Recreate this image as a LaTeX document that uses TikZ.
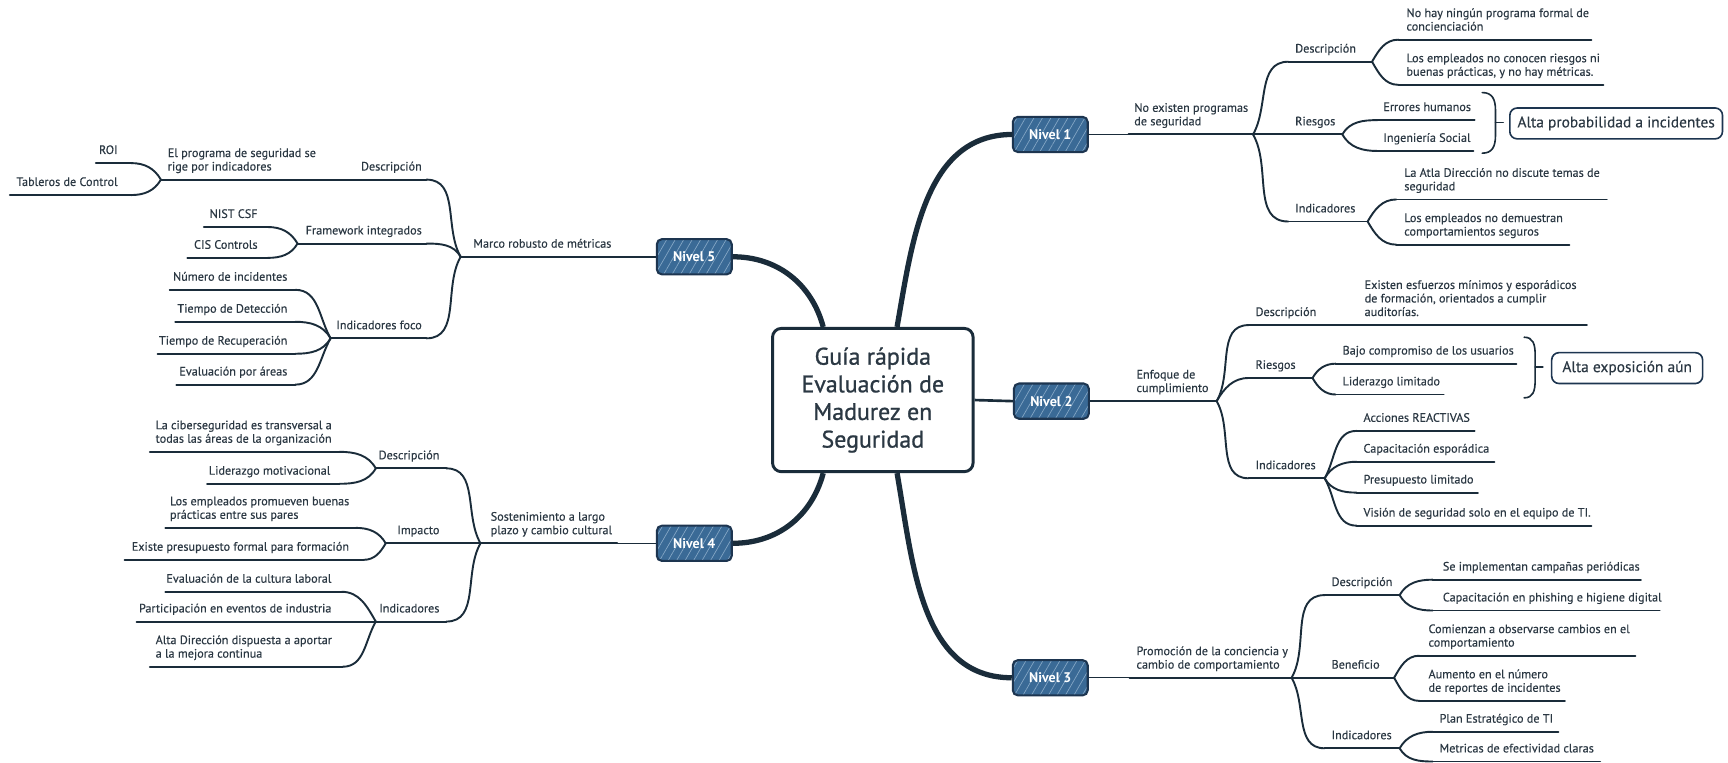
\documentclass[tikz,border=0pt]{standalone}
\usepackage{fontspec}
\setmainfont{PT Sans}
\newfontfamily\bodyfont{PT Sans}[FakeBold=0.3]
\newfontfamily\titlefont{PT Sans}[FakeBold=0.9]
\usetikzlibrary{calc,patterns.meta}
\definecolor{txtcol}{HTML}{2B3843}
\definecolor{linecol}{HTML}{1A2C3A}
\definecolor{nivfill}{HTML}{3A6A96}
\definecolor{nivdraw}{HTML}{1D3550}
\definecolor{hatch}{HTML}{86A8C6}
\newcommand{\mmN}[7]{%
  \node[txt,anchor=#2] (#1) at (#3,-#4) {#7};
  \draw[ul] (#5,-#4) coordinate (#1L) -- (#6,-#4) coordinate (#1R);
}
\begin{document}
\begin{tikzpicture}[x=0.75pt,y=0.75pt,
  txt/.style={font=\bodyfont\fontsize{8.3pt}{9.2pt}\selectfont, text=txtcol, align=left, inner xsep=0pt, inner ysep=4pt, text depth=2pt},
  ul/.style={draw=linecol, line width=1.3pt, line cap=round},
  br/.style={draw=linecol, line width=1.3pt, line cap=round},
  thin/.style={draw=linecol, line width=1pt},
  main/.style={draw=linecol, line width=3.6pt},
  rup/.style={out=60,in=180},
  rdn/.style={out=-60,in=180},
  lup/.style={out=120,in=0},
  ldn/.style={out=-120,in=0},
  niv/.style={rectangle, rounded corners=3.5pt, draw=nivdraw, line width=1.4pt, preaction={fill=nivfill}, pattern={Lines[angle=60,distance=5pt,line width=0.45pt]}, pattern color=hatch, text=white, font=\bfseries\fontsize{9.5pt}{11pt}\selectfont, minimum width=51pt, minimum height=24pt},
  cbox/.style={rectangle, rounded corners=6pt, draw=linecol, line width=2pt, fill=white, text=txtcol, font=\titlefont\fontsize{16.3pt}{18.8pt}\selectfont, align=center, minimum width=136.5pt, minimum height=97.5pt},
  abox/.style={rectangle, rounded corners=5pt, draw=nivdraw, line width=1.1pt, fill=white, text=txtcol, font=\bodyfont\fontsize{10.5pt}{12pt}\selectfont},
  brk/.style={draw=linecol, line width=1.1pt, line cap=round},
]
\fill[white] (0,0) rectangle (1568,-692);
\useasboundingbox (0,0) rectangle (1568,-692);

% central and levels
\node[cbox] (c) at (792,-363) {Guía rápida\\Evaluación de\\Madurez en\\Seguridad};
\node[niv] (n1) at (953,-122) {Nivel 1};
\node[niv] (n2) at (954,-364) {Nivel 2};
\node[niv] (n3) at (953,-615) {Nivel 3};
\node[niv] (n4) at (630,-493) {Nivel 4};
\node[niv] (n5) at (630,-233) {Nivel 5};

\draw[main] ($(c.north)+(22,0)$) to[out=80,in=180] (n1.west);
\draw[main] ($(c.north)+(-45,0)$) to[out=105,in=0] (n5.east);
\draw[main] ($(c.south)+(-45,0)$) to[out=-105,in=0] (n4.east);
\draw[main] ($(c.south)+(22,0)$) to[out=-80,in=180] (n3.west);
\draw[draw=linecol, line width=1.8pt] (c.east) -- (n2.west);

% ---------- Nivel 1
\mmN{t1}{south west}{1029}{122}{1024}{1137}{No existen programas\\de seguridad}
\mmN{d1}{south west}{1175}{56}{1169}{1245}{Descripción}
\mmN{r1}{south west}{1175}{122}{1171}{1218}{Riesgos}
\mmN{i1}{south west}{1175}{201}{1169}{1241}{Indicadores}
\mmN{d1a}{south west}{1276}{36}{1269}{1444}{No hay ningún programa formal de\\concienciación}
\mmN{d1b}{south west}{1276}{77}{1269}{1455}{Los empleados no conocen riesgos ni\\buenas prácticas, y no hay métricas.}
\mmN{r1a}{south west}{1255}{109}{1250}{1338}{Errores humanos}
\mmN{r1b}{south west}{1255}{137}{1250}{1337}{Ingeniería Social}
\mmN{i1a}{south west}{1274}{181}{1267}{1458}{La Atla Dirección no discute temas de\\seguridad}
\mmN{i1b}{south west}{1274}{222}{1267}{1424}{Los empleados no demuestran\\comportamientos seguros}
\draw[thin] (n1.east) -- (t1L);
\draw[br] (t1R) to[rup] (d1L);
\draw[br] (t1R) -- (r1L);
\draw[br] (t1R) to[rdn] (i1L);
\draw[br] (d1R) to[rup] (d1aL);
\draw[br] (d1R) to[rdn] (d1bL);
\draw[br] (r1R) to[rup] (r1aL);
\draw[br] (r1R) to[rdn] (r1bL);
\draw[br] (i1R) to[rup] (i1aL);
\draw[br] (i1R) to[rdn] (i1bL);
\draw[brk] (1345,-84) .. controls (1354,-84) and (1357,-90) .. (1357,-100) -- (1357,-123) .. controls (1357,-133) and (1354,-139) .. (1345,-139);
\draw[brk] (1357,-111) -- (1364,-111);
\node[abox, minimum width=144.75pt, minimum height=21pt] (a1) at (1466.5,-112) {Alta probabilidad a incidentes};

% ---------- Nivel 2
\mmN{t2}{south west}{1031}{364}{1025}{1104}{Enfoque de\\cumplimiento}
\mmN{d2}{south west}{1139}{295}{1133}{1196}{Descripción}
\mmN{r2}{south west}{1139}{343}{1133}{1191}{Riesgos}
\mmN{i2}{south west}{1139}{434}{1133}{1202}{Indicadores}
\mmN{d2a}{south west}{1238}{295}{1230}{1440}{Existen esfuerzos mínimos y esporádicos\\de formación, orientados a cumplir\\auditorías.}
\mmN{r2a}{south west}{1218}{330}{1212}{1376}{Bajo compromiso de los usuarios}
\mmN{r2b}{south west}{1218}{358}{1212}{1310}{Liderazgo limitado}
\mmN{i2a}{south west}{1237}{391}{1231}{1338}{Acciones REACTIVAS}
\mmN{i2b}{south west}{1237}{419}{1231}{1356}{Capacitación esporádica}
\mmN{i2c}{south west}{1237}{447}{1231}{1341}{Presupuesto limitado}
\mmN{i2d}{south west}{1237}{477}{1231}{1444}{Visión de seguridad solo en el equipo de TI.}
\draw[thin] (n2.east) -- (t2L);
\draw[br] (t2R) to[rup] (d2L);
\draw[br] (t2R) to[rup] (r2L);
\draw[br] (t2R) to[rdn] (i2L);
\draw[br] (d2R) -- (d2aL);
\draw[br] (r2R) to[rup] (r2aL);
\draw[br] (r2R) to[rdn] (r2bL);
\draw[br] (i2R) to[rup] (i2aL);
\draw[br] (i2R) to[rup] (i2bL);
\draw[br] (i2R) to[rdn] (i2cL);
\draw[br] (i2R) to[rdn] (i2dL);
\draw[brk] (1383,-306) .. controls (1391,-306) and (1393,-312) .. (1393,-322) -- (1393,-345) .. controls (1393,-355) and (1391,-361) .. (1383,-361);
\draw[brk] (1393,-333) -- (1400,-333);
\node[abox, minimum width=102.75pt, minimum height=21pt] (a2) at (1476.5,-334) {Alta exposición aún};

% ---------- Nivel 3
\mmN{t3}{south west}{1031}{615}{1025}{1172}{Promoción de la conciencia y\\cambio de comportamiento}
\mmN{d3}{south west}{1208}{540}{1202}{1270}{Descripción}
\mmN{b3}{south west}{1208}{615}{1202}{1265}{Beneficio}
\mmN{i3}{south west}{1208}{679}{1202}{1270}{Indicadores}
\mmN{d3a}{south west}{1309}{526}{1300}{1489}{Se implementan campañas periódicas}
\mmN{d3b}{south west}{1309}{554}{1300}{1506}{Capacitación en phishing e higiene digital}
\mmN{b3a}{south west}{1296}{595}{1288}{1484}{Comienzan a observarse cambios en el\\comportamiento}
\mmN{b3b}{south west}{1296}{636}{1288}{1420}{Aumento en el número\\de reportes de incidentes}
\mmN{i3a}{south west}{1306}{664}{1300}{1414}{Plan Estratégico de TI}
\mmN{i3b}{south west}{1306}{691}{1300}{1452}{Metricas de efectividad claras}
\draw[thin] (n3.east) -- (t3L);
\draw[br] (t3R) to[rup] (d3L);
\draw[br] (t3R) -- (b3L);
\draw[br] (t3R) to[rdn] (i3L);
\draw[br] (d3R) to[rup] (d3aL);
\draw[br] (d3R) to[rdn] (d3bL);
\draw[br] (b3R) to[rup] (b3aL);
\draw[br] (b3R) to[rdn] (b3bL);
\draw[br] (i3R) to[rup] (i3aL);
\draw[br] (i3R) to[rdn] (i3bL);

% ---------- Nivel 5
\mmN{t5}{south east}{555}{233}{418}{565}{Marco robusto de métricas}
\mmN{d5}{south east}{383}{163}{324}{387}{Descripción}
\mmN{f5}{south east}{383}{221}{270}{387}{Framework integrados}
\mmN{if5}{south east}{383}{307}{300}{387}{Indicadores foco}
\mmN{d5a}{south west}{152}{163}{146}{322}{El programa de seguridad se\\rige por indicadores}
\mmN{roi}{south east}{107}{148}{87}{119}{ROI}
\mmN{tab}{south east}{107}{177}{9}{119}{Tableros de Control}
\mmN{nist}{south east}{234}{206}{185}{243}{NIST CSF}
\mmN{cis}{south east}{234}{234}{170}{243}{CIS Controls}
\mmN{num}{south east}{261}{263}{154}{268}{Número de incidentes}
\mmN{tdet}{south east}{261}{292}{159}{268}{Tiempo de Detección}
\mmN{trec}{south east}{261}{321}{143}{268}{Tiempo de Recuperación}
\mmN{evar}{south east}{261}{349}{160}{268}{Evaluación por áreas}
\draw[thin] (n5.west) -- (t5R);
\draw[br] (t5L) to[lup] (d5R);
\draw[br] (t5L) to[lup] (f5R);
\draw[br] (t5L) to[ldn] (if5R);
\draw[br] (d5L) -- (d5aR);
\draw[br] (d5aL) to[lup] (roiR);
\draw[br] (d5aL) to[ldn] (tabR);
\draw[br] (f5L) to[lup] (nistR);
\draw[br] (f5L) to[ldn] (cisR);
\draw[br] (if5L) to[lup] (numR);
\draw[br] (if5L) to[lup] (tdetR);
\draw[br] (if5L) to[ldn] (trecR);
\draw[br] (if5L) to[ldn] (evarR);

% ---------- Nivel 4
\mmN{t4}{south west}{445}{493}{436}{560}{Sostenimiento a largo\\plazo y cambio cultural}
\mmN{d4}{south east}{399}{425}{341}{405}{Descripción}
\mmN{im4}{south east}{399}{493}{350}{405}{Impacto}
\mmN{in4}{south east}{399}{564}{341}{405}{Indicadores}
\mmN{d4a}{south west}{141}{410}{136}{308}{La ciberseguridad es transversal a\\todas las áreas de la organización}
\mmN{d4b}{south east}{300}{439}{188}{308}{Liderazgo motivacional}
\mmN{im4a}{south west}{154}{479}{150}{323}{Los empleados promueven buenas\\prácticas entre sus pares}
\mmN{im4b}{south east}{317}{508}{113}{330}{Existe presupuesto formal para formación}
\mmN{in4a}{south east}{301}{537}{150}{310}{Evaluación de la cultura laboral}
\mmN{in4b}{south east}{301}{564}{124}{334}{Participación en eventos de industria}
\mmN{in4c}{south west}{141}{605}{136}{311}{Alta Dirección dispuesta a aportar\\a la mejora continua}
\draw[thin] (n4.west) -- (t4R);
\draw[br] (t4L) to[lup] (d4R);
\draw[br] (t4L) -- (im4R);
\draw[br] (t4L) to[ldn] (in4R);
\draw[br] (d4L) to[lup] (d4aR);
\draw[br] (d4L) to[ldn] (d4bR);
\draw[br] (im4L) to[lup] (im4aR);
\draw[br] (im4L) to[ldn] (im4bR);
\draw[br] (in4L) to[lup] (in4aR);
\draw[br] (in4L) -- (in4bR);
\draw[br] (in4L) to[ldn] (in4cR);
\end{tikzpicture}
\end{document}
